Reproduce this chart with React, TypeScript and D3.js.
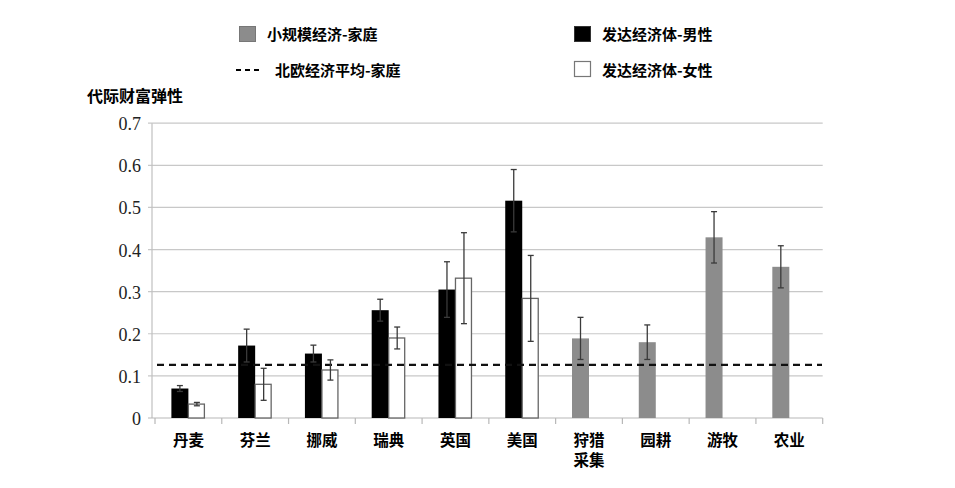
import React from "react";
import * as d3 from "d3";

const categories = ["丹麦", "芬兰", "挪威", "瑞典", "英国", "美国", "狩猎\n采集", "园耕", "游牧", "农业"];
const developedCats = ["丹麦", "芬兰", "挪威", "瑞典", "英国", "美国"];
const maleValues = [0.07, 0.172, 0.153, 0.256, 0.305, 0.516];
const maleErrors = [0.007, 0.039, 0.02, 0.026, 0.066, 0.074];
const femaleValues = [0.033, 0.08, 0.114, 0.19, 0.332, 0.284];
const femaleErrors = [0.004, 0.038, 0.024, 0.026, 0.108, 0.102];
const smallCats = ["狩猎\n采集", "园耕", "游牧", "农业"];
const smallValues = [0.189, 0.18, 0.429, 0.359];
const smallErrors = [0.05, 0.041, 0.061, 0.05];
const nordicAverage = 0.126;
const yTicks = [0, 0.1, 0.2, 0.3, 0.4, 0.5, 0.6, 0.7];

const W = 955;
const H = 488;
const cjk = "'Noto Sans CJK SC', 'Noto Sans', sans-serif";
const serif = "'Liberation Serif', 'Times New Roman', Times, 'DejaVu Serif', serif";

export default function App() {
  const x = d3.scaleBand<string>().domain(categories).range([155, 822.7]).padding(0);
  const bw = x.bandwidth();
  const barW = 17;
  const p = (bw / barW - 2) / 2;
  const sub = d3.scaleBand<string>().domain(["a", "b"]).range([0, bw]).paddingInner(0).paddingOuter(p);
  const y = d3.scaleLinear().domain([0, 0.7]).range([418, 123.2]);

  const errBar = (cx: number, v: number, e: number, key: string) => (
    <g key={key} stroke="#3a3a3a" strokeWidth={1.3}>
      <line x1={cx} x2={cx} y1={y(v + e)} y2={y(v - e)} />
      <line x1={cx - 3} x2={cx + 3} y1={y(v + e)} y2={y(v + e)} />
      <line x1={cx - 3} x2={cx + 3} y1={y(v - e)} y2={y(v - e)} />
    </g>
  );

  return (
    <svg width={W} height={H} style={{ position: "absolute", left: 0, top: 0, background: "#fff" }}>
      {/* legend */}
      <g style={{ fontFamily: cjk }} fontWeight="bold" fontSize={15} fill="#000">
        <rect x={239.5} y={26.5} width={16} height={15} fill="#8c8c8c" stroke="#777" strokeWidth={1} />
        <text x={267} y={40}>小规模经济-家庭</text>
        <rect x={574.5} y={26.5} width={16} height={15} fill="#000" stroke="#333" strokeWidth={1} />
        <text x={602} y={40}>发达经济体-男性</text>
        <line x1={236} x2={262} y1={70} y2={70} stroke="#000" strokeWidth={2} strokeDasharray="5,4" />
        <text x={275} y={75.5}>北欧经济平均-家庭</text>
        <rect x={574.5} y={61.5} width={16} height={15} fill="#fff" stroke="#777" strokeWidth={1.2} />
        <text x={602} y={75.5}>发达经济体-女性</text>
      </g>

      {/* y title */}
      <text x={87} y={102} style={{ fontFamily: cjk }} fontWeight="bold" fontSize={16}>代际财富弹性</text>

      {/* gridlines & y ticks */}
      {yTicks.map((t) => (
        <g key={t}>
          {t > 0 && <line x1={148} x2={822.7} y1={y(t)} y2={y(t)} stroke="#c8c8c8" strokeWidth={1.2} />}
          <text x={141} y={y(t) + 7} textAnchor="end" style={{ fontFamily: serif, fontSize: "18px" }} fill="#222">
            {t === 0 ? "0" : t.toFixed(1)}
          </text>
        </g>
      ))}
      {/* axes */}
      <line x1={152} x2={152} y1={y(0.7)} y2={y(0)} stroke="#c0c0c0" strokeWidth={1.2} />
      <line x1={148} x2={822.7} y1={y(0)} y2={y(0)} stroke="#b8b8b8" strokeWidth={1.2} />
      {categories.map((c) => (
        <line key={c} x1={x(c)!} x2={x(c)!} y1={y(0)} y2={y(0) + 6} stroke="#b8b8b8" strokeWidth={1.2} />
      ))}
      <line x1={822.7} x2={822.7} y1={y(0)} y2={y(0) + 6} stroke="#b8b8b8" strokeWidth={1.2} />

      {/* bars */}
      {developedCats.map((c, i) => {
        const x0 = x(c)! + sub("a")!;
        const x1 = x(c)! + sub("b")!;
        return (
          <g key={c}>
            <rect x={x0} y={y(maleValues[i])} width={barW} height={y(0) - y(maleValues[i])} fill="#000" />
            <rect x={x1} y={y(femaleValues[i])} width={barW - 1} height={y(0) - y(femaleValues[i])} fill="#fff" stroke="#666" strokeWidth={1.3} />
          </g>
        );
      })}
      {smallCats.map((c, i) => (
        <rect key={c} x={x(c)! + sub("a")!} y={y(smallValues[i])} width={barW} height={y(0) - y(smallValues[i])} fill="#8c8c8c" />
      ))}

      {/* dashed nordic average */}
      <line x1={157} x2={822} y1={y(nordicAverage)} y2={y(nordicAverage)} stroke="#111" strokeWidth={2.2} strokeDasharray="7,5" />

      {/* error bars */}
      {developedCats.map((c, i) => errBar(x(c)! + sub("a")! + barW / 2, maleValues[i], maleErrors[i], "m" + c))}
      {developedCats.map((c, i) => errBar(x(c)! + sub("b")! + barW / 2, femaleValues[i], femaleErrors[i], "f" + c))}
      {smallCats.map((c, i) => errBar(x(c)! + sub("a")! + barW / 2, smallValues[i], smallErrors[i], "s" + c))}

      {/* category labels */}
      <g style={{ fontFamily: cjk }} fontWeight="bold" fontSize={15.5} textAnchor="middle">
        {categories.map((c) =>
          c.split("\n").map((line, j) => (
            <text key={c + j} x={x(c)! + bw / 2} y={446 + j * 20}>{line}</text>
          ))
        )}
      </g>
    </svg>
  );
}
